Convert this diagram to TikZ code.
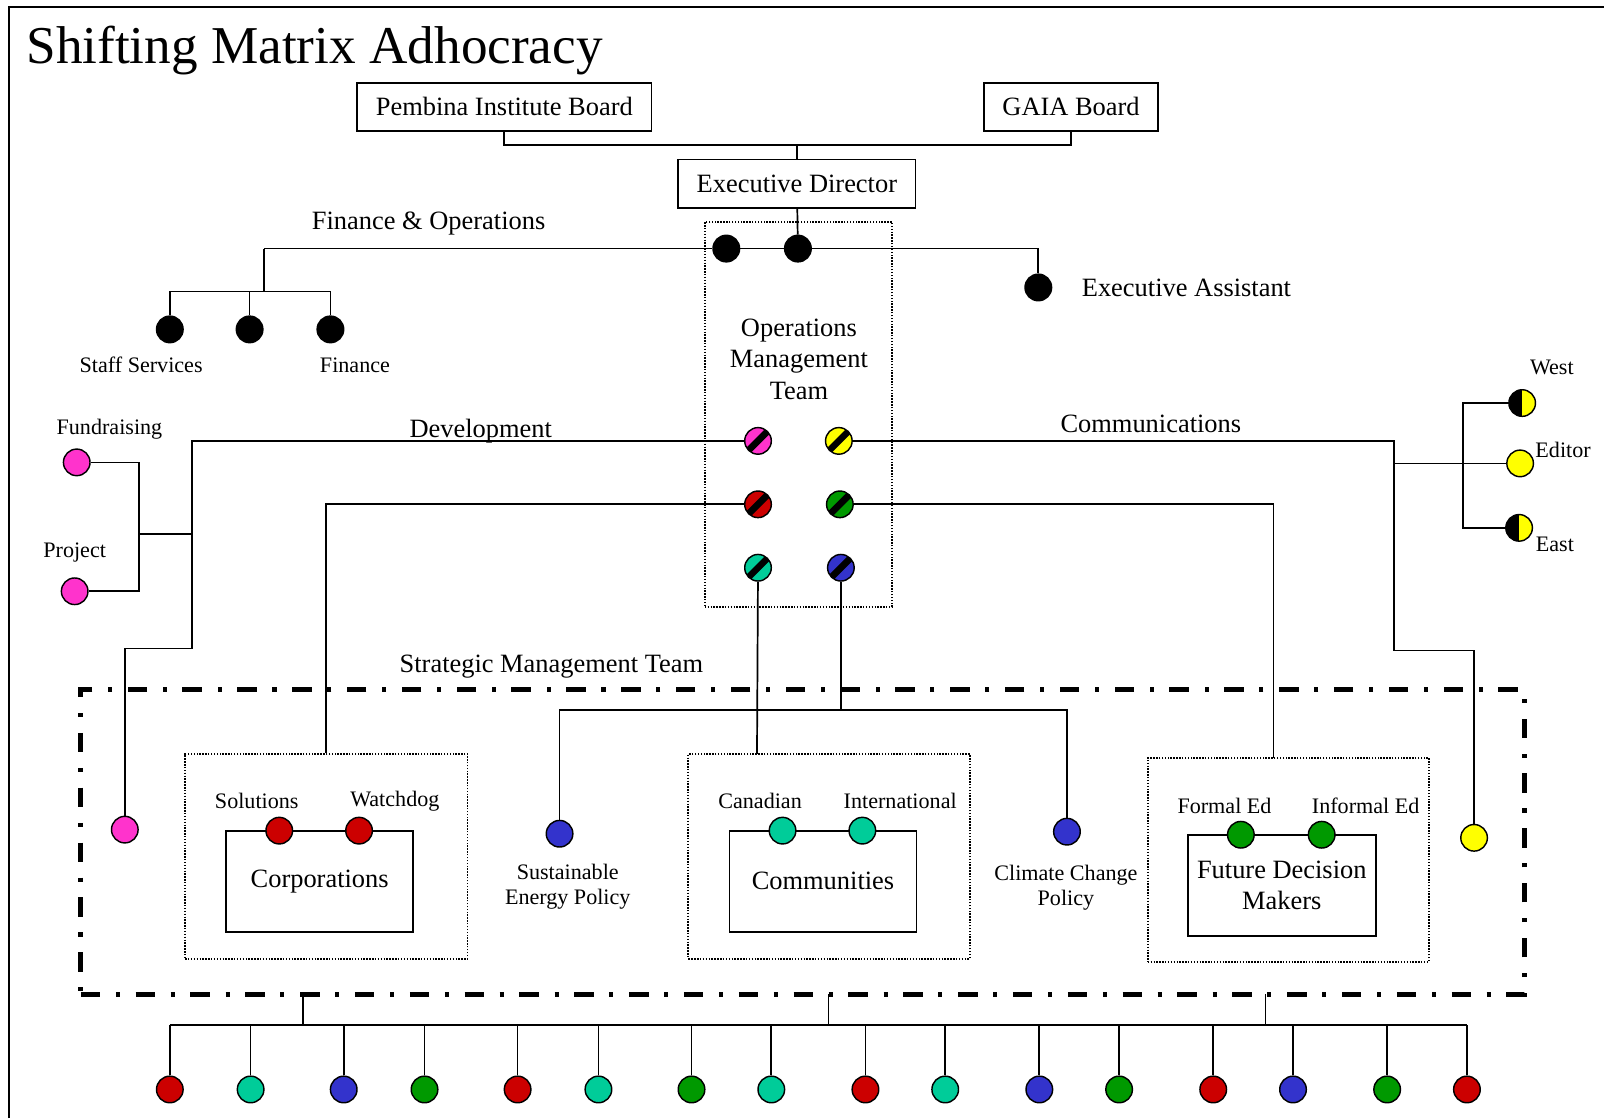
\documentclass[tikz,border=0pt]{standalone}
\usepackage{fontspec}
\setmainfont{Liberation Serif}
\definecolor{dpink}{HTML}{FF33CC}
\definecolor{dred}{HTML}{CC0000}
\definecolor{dyellow}{HTML}{FFFF00}
\definecolor{dgreen}{HTML}{009900}
\definecolor{dteal}{HTML}{00CC99}
\definecolor{dblue}{HTML}{3333CC}
\begin{document}
\begin{tikzpicture}[x=0.2mm,y=-0.2mm,line width=0.95pt,
    bigtext/.style={font=\fontsize{14.7}{17.6}\selectfont,inner sep=1pt},
    smalltext/.style={font=\fontsize{12.3}{13.8}\selectfont,inner sep=1pt},
    boxed/.style={draw,rectangle,inner sep=0pt,align=center},
    dotframe/.style={draw,rectangle,inner sep=0pt,line width=1.1pt,dash pattern=on 0.8pt off 0.8pt},
    smtframe/.style={draw,rectangle,inner sep=0pt,line width=2.6pt,dash pattern=on 3.8mm off 3.06mm on 0.8mm off 3.06mm},
    disc/.style={draw,circle,minimum size=\dotsize,inner sep=0pt,line width=0.8pt},
    bdisc/.style={disc,fill=black},
    slashdisc/.style={disc,fill=#1,path picture={\draw[black,line width=1.3mm] (path picture bounding box.south west) -- (path picture bounding box.north east);}},
    halfdisc/.style={disc,fill=dyellow,path picture={\fill[black] (path picture bounding box.south west) rectangle (path picture bounding box.north);}}
  ]

  \def\dotsize{5.2mm}  %diameter of the dots
  \def\by{1002}        %height of the bottom bar

  \useasboundingbox (0,0) rectangle (1568,1093);
  \draw[line width=1pt] (9,1093) -- (9,7) -- (1568,7);   %frame

  \node[anchor=base west,inner sep=0pt,font=\fontsize{29.6}{35}\selectfont] (title) at (25,62) {Shifting Matrix Adhocracy};

  %BOARDS
  \node[boxed,bigtext,minimum width=57.6mm,minimum height=9.4mm] (pib) at (493,104.5) {Pembina Institute Board};
  \node[boxed,bigtext,minimum width=34mm,minimum height=9.4mm] (gaia) at (1047,104.5) {GAIA Board};
  \node[boxed,bigtext,minimum width=46.4mm,minimum height=9.4mm] (ed) at (779,179.5) {Executive Director};
  \coordinate (bj) at (779,142);
  \draw (pib) |- (bj) -| (gaia);
  \draw (bj) -- (ed);

  %OPERATIONS MANAGEMENT TEAM
  \node[dotframe,minimum width=36.6mm,minimum height=75.2mm] (omt) at (780.5,405) {};
  \node[bigtext,align=center] (omtl) at (781,351) {Operations\\Management\\Team};
  \node[bdisc] (om1) at (710,243) {};
  \node[bdisc] (om2) at (780,243) {};
  \node[bdisc] (ea) at (1015,281) {};
  \node[bigtext,anchor=west] (eal) at (1055,281) {Executive Assistant};
  \coordinate (fo) at (258,243);
  \draw (ed) -- (om2);
  \draw (fo) -- (om1) -- (om2) -| (ea);
  \node[bigtext] (fol) at (419,219) {Finance \& Operations};

  %FINANCE
  \coordinate (fj) at (258,285);
  \node[bdisc] (ss) at (166,322) {};
  \node[bdisc] (fm) at (244,322) {};
  \node[bdisc] (fin) at (323,322) {};
  \draw (fo) -- (fj);
  \draw (ss) |- (fj) -| (fin);
  \draw (fm) -- (fm |- fj);
  \node[smalltext] (ssl) at (138,357) {Staff Services};
  \node[smalltext] (finl) at (347,357) {Finance};

  %DEVELOPMENT
  \node[disc,fill=dpink] (fr) at (75,452) {};
  \node[disc,fill=dpink] (pj) at (73,578) {};
  \node[smalltext] (frl) at (107,420) {Fundraising};
  \node[smalltext] (pjl) at (73,540) {Project};
  \coordinate (dj) at (136,522);
  \coordinate (dv) at (188,522);
  \draw (fr) -| (dj) |- (pj);
  \draw (dj) -- (dv);
  \node[slashdisc=dpink] (sp) at (741,431) {};
  \coordinate (dk) at (188,634);
  \node[disc,fill=dpink] (pd) at (122,811) {};
  \draw (sp) -| (dk) -| (pd);
  \node[bigtext] (devl) at (470,421) {Development};

  %the other team dots
  \node[slashdisc=dyellow] (sy) at (820,431) {};
  \node[slashdisc=dred] (sr) at (741,493) {};
  \node[slashdisc=dgreen] (sg) at (821,493) {};
  \node[slashdisc=dteal] (st) at (741,555) {};
  \node[slashdisc=dblue] (sb) at (822,555) {};

  %COMMUNICATIONS
  \coordinate (ck) at (1363,636);
  \coordinate (cj) at (1363,453);
  \coordinate (cv) at (1430,453);
  \node[disc,fill=dyellow] (ye) at (1441,819) {};
  \draw (sy) -| (ck) -| (ye);
  \node[halfdisc] (west) at (1488,394) {};
  \node[disc,fill=dyellow] (edi) at (1486,453) {};
  \node[halfdisc] (east) at (1485,516) {};
  \draw (cj) -- (edi);
  \draw (west) -| (cv) |- (east);
  \node[smalltext] (westl) at (1517,359) {West};
  \node[smalltext] (edil) at (1528,440) {Editor};
  \node[smalltext] (eastl) at (1520,532) {East};
  \node[bigtext] (coml) at (1125,414) {Communications};

  %STRATEGIC MANAGEMENT TEAM
  \node[smtframe,minimum width=282.2mm,minimum height=59.6mm] (smt) at (784.5,823) {};
  \node[bigtext] (smtl) at (539,652) {Strategic Management Team};

  %corporations
  \node[dotframe,minimum width=55.2mm,minimum height=40mm] (corp) at (319,837) {};
  \node[boxed,bigtext,minimum width=36.6mm,minimum height=19.8mm] (corpi) at (312.5,861.5) {\raisebox{-0.6mm}{Corporations}};
  \node[disc,fill=dred] (sol) at (273,812) {};
  \node[disc,fill=dred] (wd) at (351,812) {};
  \node[smalltext] (soll) at (251,783) {Solutions};
  \node[smalltext] (wdl) at (386,783) {Watchdog};
  \draw (sr) -| (corp);

  %communities
  \node[dotframe,minimum width=55mm,minimum height=40mm] (comm) at (810.5,837) {};
  \node[boxed,bigtext,minimum width=36.6mm,minimum height=19.8mm] (commi) at (804.5,861.5) {\raisebox{-1mm}{Communities}};
  \node[disc,fill=dteal] (can) at (765,812) {};
  \node[disc,fill=dteal] (int) at (843,812) {};
  \node[smalltext] (canl) at (743,783) {Canadian};
  \node[smalltext] (intl) at (880,783) {International};
  \coordinate (tj) at (740,737);
  \draw (st) -- (tj);

  %future decision makers
  \node[dotframe,minimum width=55mm,minimum height=39.8mm] (fdm) at (1259.5,840.5) {};
  \node[boxed,bigtext,minimum width=36.8mm,minimum height=19.8mm] (fdmi) at (1253,865.5) {\raisebox{-1.2mm}{\parbox{36mm}{\centering Future Decision\\Makers}}};
  \node[disc,fill=dgreen] (fed) at (1213,816) {};
  \node[disc,fill=dgreen] (ied) at (1292,816) {};
  \node[smalltext] (fedl) at (1197,788) {Formal Ed};
  \node[smalltext] (iedl) at (1335,788) {Informal Ed};
  \coordinate (gj) at (1245,741);
  \draw (sg) -| (gj);

  %policy
  \coordinate (bb) at (822,694);
  \node[disc,fill=dblue] (sep) at (547,815) {};
  \node[disc,fill=dblue] (ccp) at (1043,813) {};
  \draw (sb) -- (bb);
  \draw (sep) |- (bb) -| (ccp);
  \node[smalltext,align=center] (sepl) at (555,867) {Sustainable\\Energy Policy};
  \node[smalltext,align=center] (ccpl) at (1042,868) {Climate Change\\Policy};

  %BOTTOM ROW
  \foreach \x [count=\k] in {296,810,1237}{
    \coordinate (u\k) at (\x,972);
    \coordinate (v\k) at (\x,\by);
    \draw (u\k) -- (v\k);
  }
  \foreach \x/\c [count=\i] in {166/dred,245/dteal,336/dblue,415/dgreen,506/dred,585/dteal,676/dgreen,754/dteal,846/dred,924/dteal,1016/dblue,1094/dgreen,1186/dred,1264/dblue,1356/dgreen,1434/dred}{
    \node[disc,fill=\c] (b\i) at (\x,1065) {};
    \coordinate (t\i) at (\x,\by);
    \draw (b\i) -- (t\i);
  }
  \draw (t1) -- (t16);
\end{tikzpicture}
\end{document}
